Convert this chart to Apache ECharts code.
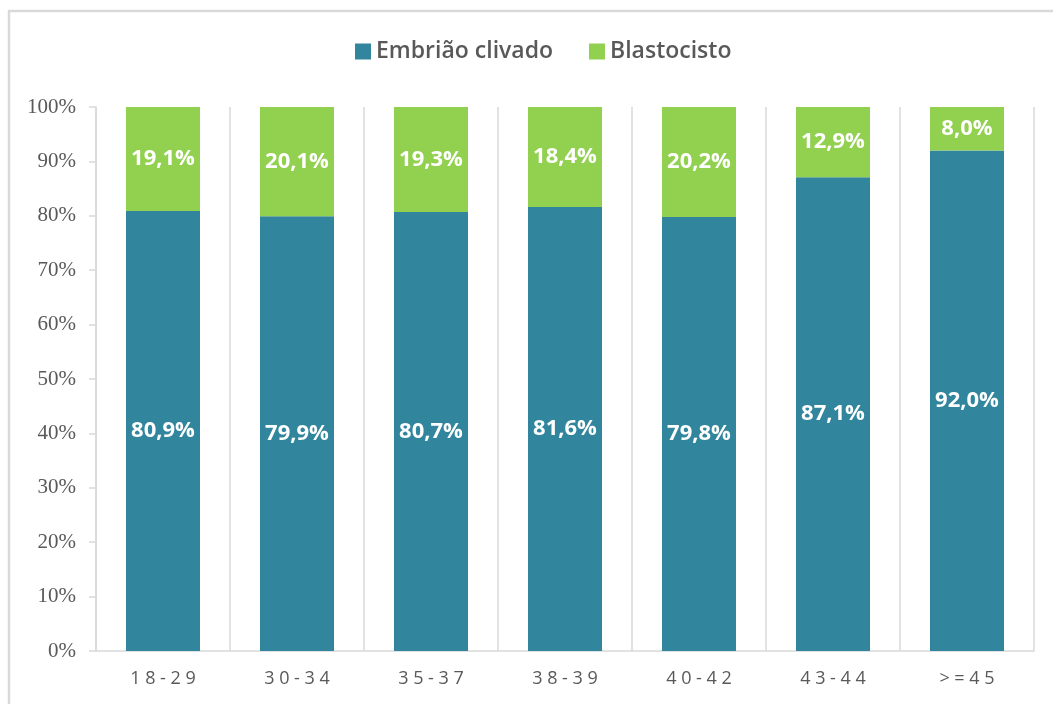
<!DOCTYPE html>
<html>
<head>
<meta charset="utf-8">
<script src="https://cdn.jsdelivr.net/npm/echarts@6/dist/echarts.min.js"></script>
<style>
  html, body { margin: 0; padding: 0; background: #fff; }
  #chart { width: 1053px; height: 704px; }
</style>
</head>
<body>
<div id="chart"></div>
<script>
var categories = ['18-29', '30-34', '35-37', '38-39', '40-42', '43-44', '>=45']
var clivado = [80.9, 79.9, 80.7, 81.6, 79.8, 87.1, 92.0]
var blastocisto = [19.1, 20.1, 19.3, 18.4, 20.2, 12.9, 8.0]

var chart = echarts.init(document.getElementById('chart'))

function pct (p) {
  return p.value.toFixed(1).replace('.', ',') + '%'
}

var labelStyle = {
  show: true,
  position: 'inside',
  formatter: pct,
  color: '#fff',
  fontFamily: 'Open Sans',
  fontWeight: 'bold',
  fontSize: 22
}

var option = {
  animation: false,
  graphic: [
    {
      type: 'rect',
      shape: { x: 9, y: 11, width: 1100, height: 760 },
      style: { fill: 'none', stroke: '#d9d9d9', lineWidth: 2.5 },
      silent: true
    }
  ],
  legend: {
    top: 35,
    left: 350,
    itemWidth: 16,
    itemHeight: 16,
    itemGap: 36,
    icon: 'rect',
    textStyle: { color: '#595959', fontFamily: 'Open Sans', fontWeight: 600, fontSize: 23 },
    data: ['Embrião clivado', 'Blastocisto']
  },
  grid: { left: 96, right: 19, top: 107, bottom: 53, containLabel: false },
  xAxis: {
    type: 'category',
    data: categories,
    axisLine: { lineStyle: { color: '#d9d9d9', width: 1.5 } },
    axisTick: { show: false },
    splitLine: { show: true, lineStyle: { color: '#d9d9d9', width: 1.5 } },
    axisLabel: {
      margin: 19,
      color: '#595959',
      fontFamily: 'Open Sans',
      fontSize: 18,
      formatter: function (v) { return v.split('').join(' ') }
    }
  },
  yAxis: {
    type: 'value',
    min: 0,
    max: 100,
    interval: 10,
    axisLine: { show: true, lineStyle: { color: '#d9d9d9', width: 1.5 } },
    axisTick: { show: true, length: 7, lineStyle: { color: '#d9d9d9', width: 1.5 } },
    splitLine: { show: false },
    axisLabel: {
      margin: 20,
      color: '#595959',
      fontFamily: 'Liberation Serif',
      fontSize: 21,
      formatter: '{value}%'
    }
  },
  series: [
    {
      name: 'Embrião clivado',
      type: 'bar',
      stack: 'total',
      barWidth: 74,
      itemStyle: { color: '#31859c' },
      label: labelStyle,
      data: clivado
    },
    {
      name: 'Blastocisto',
      type: 'bar',
      stack: 'total',
      barWidth: 74,
      itemStyle: { color: '#92d050' },
      label: labelStyle,
      data: blastocisto
    }
  ]
}

chart.setOption(option)
</script>
</body>
</html>
